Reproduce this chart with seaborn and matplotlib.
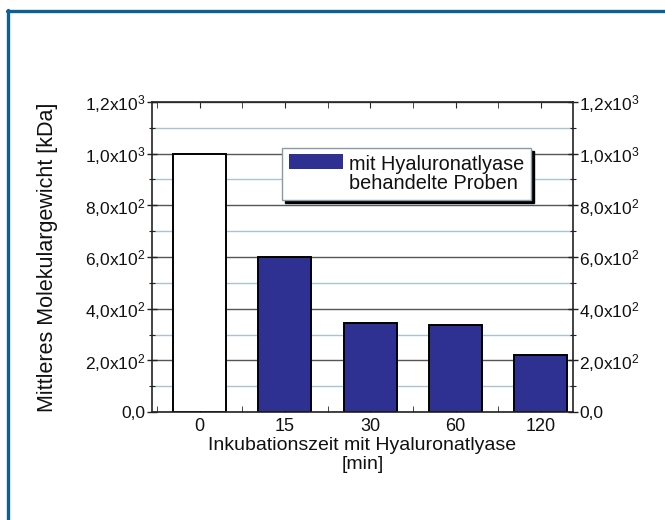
import matplotlib
matplotlib.use("Agg")
import matplotlib.pyplot as plt
import seaborn as sns
import pandas as pd
from matplotlib.patches import Patch
from matplotlib.lines import Line2D
from matplotlib.ticker import FixedLocator, MultipleLocator

categories = ["0", "15", "30", "60", "120"]
values = [1000, 600, 345, 335, 220]
bar_colors = ["#ffffff", "#2e3192", "#2e3192", "#2e3192", "#2e3192"]
ytick_values = [0, 200, 400, 600, 800, 1000, 1200]
ytick_labels = ["0,0", "2,0x10$^2$", "4,0x10$^2$", "6,0x10$^2$", "8,0x10$^2$",
                "1,0x10$^3$", "1,2x10$^3$"]
legend_label = "mit Hyaluronatlyase\nbehandelte Proben"
xlabel = "Inkubationszeit mit Hyaluronatlyase\n[min]"
ylabel = "Mittleres Molekulargewicht [kDa]"

sns.set_style("white")
plt.rcParams["font.family"] = ["Liberation Sans", "DejaVu Sans"]
plt.rcParams["mathtext.fontset"] = "custom"
plt.rcParams["mathtext.rm"] = "Liberation Sans"
plt.rcParams["mathtext.it"] = "Liberation Sans"
plt.rcParams["mathtext.default"] = "regular"

df = pd.DataFrame({"Zeit": categories, "MW": values})

fig = plt.figure(figsize=(6.65, 5.2), dpi=100)
ax = fig.add_axes([152 / 665, 1 - 412 / 520, 421 / 665, 310 / 520])

sns.barplot(data=df, x="Zeit", y="MW", hue="Zeit", palette=bar_colors,
            order=categories, hue_order=categories, legend=False,
            width=0.62, edgecolor="black", linewidth=1.4, saturation=1, ax=ax)

ax.set_ylim(0, 1200)
ax.set_xlim(-0.557, 4.376)
ax.yaxis.set_major_locator(FixedLocator(ytick_values))
ax.set_yticklabels(ytick_labels)
ax.yaxis.set_minor_locator(MultipleLocator(100))
ax.xaxis.set_minor_locator(FixedLocator([-0.5, 0.5, 1.5, 2.5, 3.5]))

ax.set_axisbelow(True)
ax.grid(True, axis="y", which="major", color="#555555", linewidth=1.0)
ax.grid(True, axis="y", which="minor", color="#a9c3d3", linewidth=1.0)

for s in ax.spines.values():
    s.set_color("#222222")
    s.set_linewidth(1.2)

ax.tick_params(axis="y", which="both", left=True, right=True, labelleft=True,
               labelright=True, direction="inout", labelsize=12.5, colors="#222222",
               labelcolor="#111111")
ax.tick_params(axis="y", which="major", length=7, width=1.0, pad=1)
ax.tick_params(axis="y", which="minor", length=5, width=0.8)
ax.tick_params(axis="x", which="both", bottom=True, top=True, direction="in",
               labelsize=13, labelcolor="#111111", pad=4)
ax.tick_params(axis="x", which="major", length=4)
ax.tick_params(axis="x", which="minor", length=4)

ax.set_xlabel(xlabel, fontsize=14, labelpad=2, linespacing=1.15, color="#111111")
ax.set_ylabel("")
fig.text(48 / 665, 1 - 257 / 520, ylabel, rotation=90, ha="center", va="center",
         fontsize=15.5, color="#111111")

handle = Patch(facecolor="#2e3192", edgecolor="none")
leg = ax.legend([handle], [legend_label], loc="upper left",
                bbox_to_anchor=(0.309, 0.852), borderaxespad=0, fontsize=14.3,
                handlelength=2.7, handleheight=0.8, frameon=True, fancybox=False,
                shadow={"color": "black", "alpha": 1.0}, borderpad=0.35,
                handletextpad=0.3, labelspacing=0.1)
leg.get_frame().set_edgecolor("#8a9aa8")
leg.get_frame().set_linewidth(1.0)
leg.get_frame().set_alpha(1.0)
for t in leg.get_texts():
    t.set_linespacing(1.0)
    t.set_color("#111111")
leg.legend_handles[0].set_y(9)

frame_color = "#0d5f94"
fig.add_artist(Line2D([7 / 665, 1.0], [1 - 11 / 520, 1 - 11 / 520],
                      transform=fig.transFigure, color=frame_color, linewidth=2.4))
fig.add_artist(Line2D([8 / 665, 8 / 665], [0, 1 - 10 / 520],
                      transform=fig.transFigure, color=frame_color, linewidth=2.4))

fig.savefig("out.png", dpi=100)
